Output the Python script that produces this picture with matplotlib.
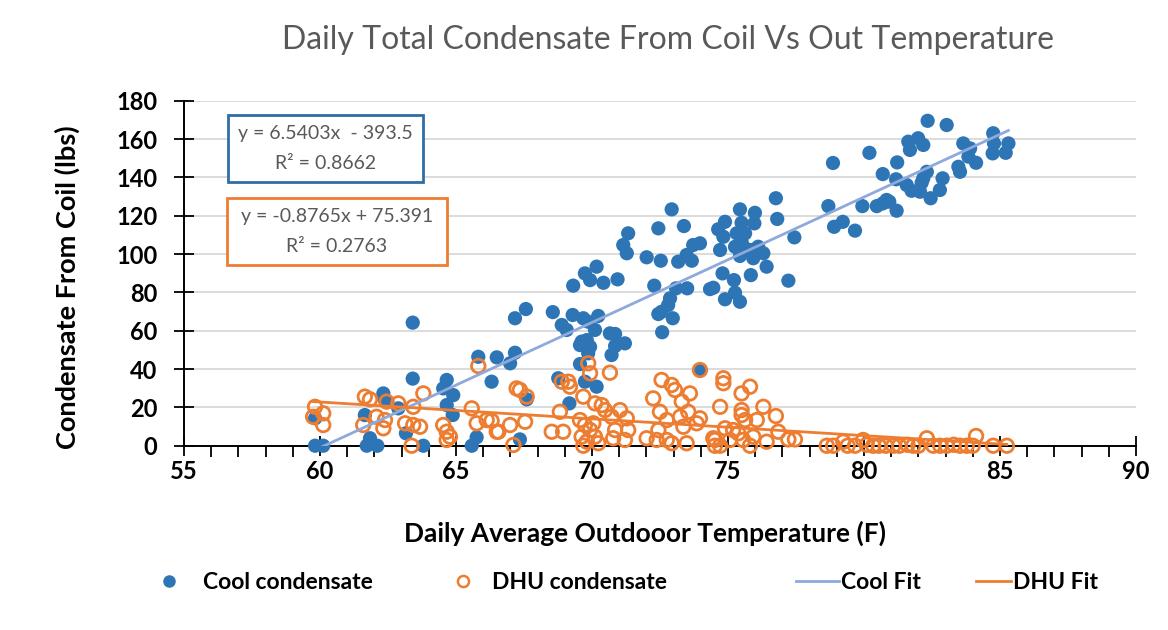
import numpy as np
import matplotlib
matplotlib.use("Agg")
import matplotlib.pyplot as plt
from matplotlib.lines import Line2D
from matplotlib.patches import Rectangle

plt.rcParams['font.family'] = ['Lato', 'DejaVu Sans']

# ---- data ----
cool_temp = [
    59.82, 60.12, 59.82, 63.41, 61.65, 61.84, 61.72, 62.11, 62.33, 62.39,
    62.88, 63.41, 63.16, 63.80, 64.66, 64.53, 64.90, 64.66, 64.88, 65.58,
    65.76, 65.82, 66.50, 66.31, 67.17, 66.99, 67.60, 67.35, 68.76, 69.17,
    69.56, 69.81, 69.56, 69.86, 69.74, 70.17, 70.72, 70.85, 71.21, 73.97,
    67.17, 67.57, 68.56, 68.89, 69.07, 69.31, 69.29, 69.74, 69.93, 70.17,
    70.42, 69.68, 69.86, 70.23, 70.11, 69.62, 69.81, 69.93, 70.66, 70.85,
    70.94, 71.15, 71.28, 71.33, 72.01, 72.53, 72.29, 72.44, 72.93, 73.38,
    73.17, 73.48, 73.72, 73.97, 73.67, 73.09, 73.50, 72.87, 72.80, 72.56,
    72.44, 72.97, 72.58, 74.34,
    74.64, 74.89, 74.83, 74.71, 75.44, 75.50, 75.99, 75.97, 75.32, 75.63,
    75.26, 75.50, 75.63, 75.44, 75.93, 76.11, 76.30, 75.87, 74.80, 75.22,
    75.84, 76.42, 74.46, 74.89, 75.26, 75.44, 76.76, 76.81, 77.44, 77.22,
    78.69, 78.90, 79.22, 79.67, 79.94, 80.69, 81.18, 80.47, 80.69, 80.93,
    81.20, 80.83, 78.86,
    80.20, 81.22, 81.63, 81.69, 81.99, 82.18, 82.34, 83.04, 81.57, 81.75,
    82.06, 82.18, 82.31, 82.12, 82.45, 82.79, 82.89, 83.47, 83.53, 83.65,
    83.90, 83.84, 84.12, 84.75, 84.78, 84.73, 85.31, 85.21,
]
cool_lbs = [
    0.0, 0.0, 14.3, 64.2, 16.0, 3.9, 0.0, 0.0, 27.3, 23.8,
    19.5, 35.0, 6.5, 0.0, 34.3, 29.9, 26.4, 21.2, 16.0, 0.0,
    4.4, 46.4, 46.1, 33.4, 48.5, 43.0, 24.2, 3.3, 35.2, 22.1,
    52.5, 53.4, 42.6, 48.2, 33.4, 30.8, 47.3, 52.0, 53.4, 39.5,
    66.5, 71.3, 69.7, 63.0, 60.4, 83.5, 68.2, 89.9, 86.4, 93.4,
    85.0, 66.5, 64.7, 67.7, 60.4, 54.3, 55.1, 51.6, 58.6, 58.3,
    86.8, 104.7, 100.4, 110.8, 98.3, 96.5, 83.5, 113.4, 123.3, 114.6,
    96.0, 99.5, 104.7, 105.6, 96.5, 82.1, 82.1, 76.9, 73.4, 69.9,
    68.7, 66.5, 59.2, 81.7,
    112.9, 116.8, 109.0, 102.1, 123.3, 116.3, 121.5, 116.0, 110.8, 110.8,
    103.8, 106.4, 103.0, 99.0, 97.8, 103.8, 100.4, 102.1, 89.9, 86.4,
    89.0, 93.4, 82.4, 76.4, 79.8, 75.1, 129.1, 118.3, 108.7, 86.1,
    125.0, 114.2, 116.8, 112.2, 125.0, 141.7, 139.0, 125.0, 126.4, 127.3,
    122.6, 128.2, 147.5,
    152.8, 147.8, 158.6, 154.3, 160.4, 156.9, 169.5, 167.3, 136.0, 133.0,
    132.5, 139.5, 142.9, 137.2, 129.1, 133.4, 139.5, 145.5, 142.9, 157.7,
    155.1, 150.8, 147.6, 163.0, 157.7, 152.5, 157.7, 152.8,
]

dhu_temp = [
    59.82, 60.12, 59.75, 60.12, 61.65, 61.84, 61.59, 62.08, 62.45, 62.39,
    62.33, 62.88, 63.43, 63.13, 63.43, 63.68, 63.80, 63.37, 64.53, 64.66,
    64.78, 64.66, 65.82, 65.58, 65.76, 66.31, 66.50,
    67.23, 67.35, 67.60, 66.13, 66.56, 66.99, 67.54, 67.11, 68.89, 69.13,
    69.19, 69.86, 69.93, 70.66, 68.82, 68.52, 68.94, 69.68, 70.11, 70.36,
    70.48, 69.56, 69.74, 69.93, 69.62, 69.81, 70.11, 70.23, 69.68, 70.05,
    70.72, 71.03, 71.28, 70.85, 71.33, 70.78, 71.21, 72.25, 72.56, 72.93,
    73.05, 72.50, 72.75, 72.44, 72.01, 72.38, 72.75, 72.93, 73.48, 73.30,
    73.60, 73.54, 73.97, 73.85, 73.24, 73.36, 74.46, 74.52, 73.97,
    74.83, 74.83, 75.81, 75.50, 74.71, 76.30, 76.76, 75.50, 75.50, 75.63,
    76.06, 74.89, 75.19, 75.38, 74.52, 75.07, 75.56, 75.93, 76.42, 76.85,
    77.22, 77.46, 74.71, 75.81,
    78.63, 78.87, 79.24, 79.40, 79.67, 79.97, 80.10, 80.34, 80.55, 80.80,
    81.08, 81.30, 81.60, 81.81, 82.00, 82.31, 82.55, 82.80, 83.04, 83.30,
    83.53, 83.78, 84.00, 84.12, 84.75, 85.25,
]
dhu_lbs = [
    20.3, 16.9, 15.1, 10.8, 25.6, 24.2, 10.8, 15.1, 23.0, 13.4,
    9.1, 22.1, 20.3, 11.7, 10.8, 9.9, 27.3, 0.0, 10.8, 7.3,
    4.7, 3.0, 41.6, 19.5, 11.7, 13.0, 7.3,
    29.9, 29.1, 25.6, 13.4, 7.3, 10.8, 12.5, 0.4, 33.4, 33.4,
    30.8, 43.0, 37.8, 38.1, 17.7, 7.3, 7.3, 25.6, 22.1, 21.2,
    18.6, 13.4, 10.8, 8.2, 4.7, 2.1, 4.7, 1.3, 0.0, 11.7,
    15.1, 18.6, 14.3, 8.2, 8.2, 3.9, 3.0, 24.7, 34.3, 31.7,
    29.1, 17.7, 13.4, 8.2, 3.9, 3.0, 3.0, 1.3, 1.3, 23.0,
    27.3, 17.7, 14.3, 11.7, 15.1, 9.9, 3.9, 0.0, 39.5,
    35.2, 32.6, 30.8, 27.3, 20.3, 20.3, 15.5, 18.6, 16.0, 13.4,
    13.4, 9.1, 8.2, 6.5, 3.0, 3.0, 3.0, 4.7, 2.1, 7.3,
    3.3, 3.3, 0.0, 0.0,
    0.0, 0.0, 2.1, 0.0, 0.0, 3.0, 0.5, 0.0, 0.0, 0.0,
    0.0, 0.0, 0.5, 0.0, 0.0, 3.9, 0.0, 0.0, 0.0, 0.5,
    0.0, 0.0, 0.0, 5.1, 0.0, 0.0,
]

cool_fit = (6.5403, -393.5)
dhu_fit = (-0.8765, 75.391)
cool_eq = ["y = 6.5403x  - 393.5", "R² = 0.8662"]
dhu_eq = ["y = -0.8765x + 75.391", "R² = 0.2763"]

BLUE = "#2E75B6"
ORANGE = "#ED7D31"
FIT_BLUE = "#8EA9DB"
GRAY = "#595959"

fig = plt.figure(figsize=(11.68, 6.30), dpi=100)
ax = fig.add_axes([0.1575, 0.2925, 0.8151, 0.5477])

ax.set_xlim(55, 90)
ax.set_ylim(0, 180)
ax.set_xticks(np.arange(55, 91, 5))
ax.set_xticks(np.arange(55, 91, 1), minor=True)
ax.set_yticks(np.arange(0, 181, 20))
ax.yaxis.grid(True, color="#D9D9D9", linewidth=1.3)
ax.set_axisbelow(True)
for s in ("top", "right"):
    ax.spines[s].set_visible(False)
for s in ("left", "bottom"):
    ax.spines[s].set_linewidth(1.4)
    ax.spines[s].set_color("black")

ax.tick_params(axis="y", direction="inout", length=14, width=1.3, pad=12,
               labelsize=17)
ax.tick_params(axis="x", which="major", direction="inout", length=14, width=1.3,
               pad=3, labelsize=17)
ax.tick_params(axis="x", which="minor", direction="out", length=8, width=1.3)
for lab in ax.get_xticklabels() + ax.get_yticklabels():
    lab.set_fontweight("bold")

# scatter
ax.scatter(cool_temp, cool_lbs, s=105, color=BLUE, edgecolors="none", zorder=3,
           clip_on=False)
ax.scatter(dhu_temp, dhu_lbs, s=95, facecolors="none", edgecolors=ORANGE,
           linewidths=2.0, zorder=4, clip_on=False)

# trend lines (over each series' x range)
xc = np.linspace(min(cool_temp), max(cool_temp), 50)
ax.plot(xc, cool_fit[0] * xc + cool_fit[1], color=FIT_BLUE, linewidth=2, zorder=5)
xd = np.linspace(min(dhu_temp), max(dhu_temp), 50)
ax.plot(xd, dhu_fit[0] * xd + dhu_fit[1], color=ORANGE, linewidth=2, zorder=5)

ax.set_xlabel("Daily Average Outdooor Temperature (F)", fontsize=19,
              fontweight="bold", va="center")
ax.set_ylabel("Condensate From Coil (lbs)", fontsize=19.5, fontweight="bold",
              va="center")
ax.xaxis.set_label_coords(0.484, -0.253)
ax.yaxis.set_label_coords(-0.122, 0.46)

fig.text(0.572, 0.936, "Daily Total Condensate From Coil Vs Out Temperature",
         ha="center", va="center", fontsize=23, color=GRAY)

# equation boxes
def eq_box(x0, y0, w, h, color, lines):
    fig.patches.append(Rectangle((x0, y0), w, h, transform=fig.transFigure,
                                 facecolor="white", edgecolor=color,
                                 linewidth=2, zorder=10))
    fig.text(x0 + w / 2, y0 + h * 0.72, lines[0], ha="center", va="center",
             fontsize=14, color=GRAY, zorder=11)
    fig.text(x0 + w / 2, y0 + h * 0.27, lines[1], ha="center", va="center",
             fontsize=14, color=GRAY, zorder=11)

eq_box(0.1952, 0.7111, 0.167, 0.1063, "#2F6DA8", cool_eq)
eq_box(0.1943, 0.5794, 0.1884, 0.1063, ORANGE, dhu_eq)

# legend, one entry at a time to match spacing
leg_items = [
    (Line2D([], [], marker="o", linestyle="none", color=BLUE, markersize=8),
     "Cool condensate", 0.112, 1.5, 0.75),
    (Line2D([], [], marker="o", linestyle="none", markerfacecolor="none",
            markeredgecolor=ORANGE, markeredgewidth=1.8, markersize=8),
     "DHU condensate", 0.364, 1.5, 0.5),
    (Line2D([], [], color=FIT_BLUE, linewidth=2), "Cool Fit", 0.6635, 1.88, 0.1),
    (Line2D([], [], color=ORANGE, linewidth=2), "DHU Fit", 0.8176, 1.53, 0.1),
]
for h, lbl, xpos, hl, tp in leg_items:
    fig.legend([h], [lbl], loc="center left", bbox_to_anchor=(xpos, 0.075),
               frameon=False, handlelength=hl, handletextpad=tp,
               prop={"size": 16.5, "weight": "bold"})

fig.savefig("out.png", dpi=100)
